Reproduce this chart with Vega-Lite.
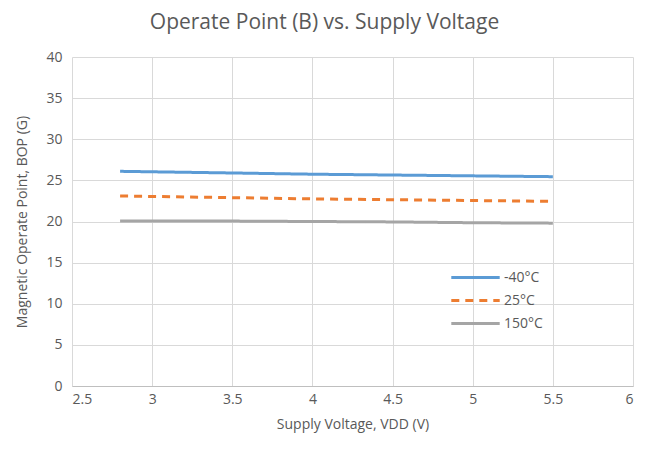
{
  "$schema": "https://vega.github.io/schema/vega-lite/v6.json",
  "width": 561,
  "height": 329,
  "autosize": {"type": "none"},
  "padding": {"left": 72, "top": 57, "right": 17, "bottom": 63},
  "background": "white",
  "title": {
    "text": "Operate Point (B) vs. Supply Voltage",
    "font": "Open Sans",
    "fontSize": 21,
    "fontWeight": "normal",
    "color": "#595959",
    "anchor": "middle",
    "dx": -28,
    "offset": 17
  },
  "config": {
    "view": {"stroke": null},
    "font": "Open Sans"
  },
  "data": {
    "values": [
      {"v": 2.8, "b": 26.1, "t": "-40°C"},
      {"v": 3.5, "b": 25.9, "t": "-40°C"},
      {"v": 4.0, "b": 25.75, "t": "-40°C"},
      {"v": 4.5, "b": 25.65, "t": "-40°C"},
      {"v": 5.0, "b": 25.55, "t": "-40°C"},
      {"v": 5.5, "b": 25.45, "t": "-40°C"},
      {"v": 2.8, "b": 23.1, "t": "25°C"},
      {"v": 3.5, "b": 22.9, "t": "25°C"},
      {"v": 4.0, "b": 22.75, "t": "25°C"},
      {"v": 4.5, "b": 22.65, "t": "25°C"},
      {"v": 5.0, "b": 22.55, "t": "25°C"},
      {"v": 5.5, "b": 22.45, "t": "25°C"},
      {"v": 2.8, "b": 20.05, "t": "150°C"},
      {"v": 3.5, "b": 20.05, "t": "150°C"},
      {"v": 4.0, "b": 20.0, "t": "150°C"},
      {"v": 4.5, "b": 19.95, "t": "150°C"},
      {"v": 5.0, "b": 19.85, "t": "150°C"},
      {"v": 5.5, "b": 19.8, "t": "150°C"}
    ]
  },
  "mark": {"type": "line", "strokeWidth": 3},
  "encoding": {
    "x": {
      "field": "v",
      "type": "quantitative",
      "scale": {"domain": [2.5, 6], "nice": false, "zero": false},
      "axis": {
        "values": [2.5, 3, 3.5, 4, 4.5, 5, 5.5, 6],
        "format": "~g",
        "title": "Supply Voltage, VDD (V)",
        "titleFont": "Open Sans",
        "titleFontSize": 14,
        "titleFontWeight": "normal",
        "titleColor": "#595959",
        "titlePadding": 11,
        "labelFontSize": 14,
        "labelColor": "#595959",
        "labelPadding": 6,
        "ticks": false,
        "domainColor": "#bfbfbf",
        "gridColor": "#d9d9d9",
        "gridWidth": 1
      }
    },
    "y": {
      "field": "b",
      "type": "quantitative",
      "scale": {"domain": [0, 40], "nice": false},
      "axis": {
        "values": [0, 5, 10, 15, 20, 25, 30, 35, 40],
        "title": "Magnetic Operate Point, BOP (G)",
        "titleFont": "Open Sans",
        "titleFontSize": 14,
        "titleFontWeight": "normal",
        "titleColor": "#595959",
        "titlePadding": 16,
        "labelFontSize": 14,
        "labelColor": "#595959",
        "labelPadding": 10,
        "ticks": false,
        "domain": false,
        "gridColor": "#d9d9d9",
        "gridWidth": 1
      }
    },
    "color": {
      "field": "t",
      "type": "nominal",
      "sort": ["-40°C", "25°C", "150°C"],
      "scale": {"domain": ["-40°C", "25°C", "150°C"], "range": ["#5B9BD5", "#ED7D31", "#A5A5A5"]},
      "legend": {
        "title": null,
        "orient": "none",
        "legendX": 391,
        "legendY": 208,
        "symbolType": "M-2.2,0H2.2",
        "symbolSize": 484,
        "symbolStrokeWidth": 3,
        "labelFontSize": 14,
        "labelColor": "#595959",
        "labelOffset": 16,
        "rowPadding": 3
      }
    },
    "strokeDash": {
      "field": "t",
      "type": "nominal",
      "scale": {"domain": ["-40°C", "25°C", "150°C"], "range": [[1, 0], [8, 6], [1, 0]]},
      "legend": null
    }
  }
}
